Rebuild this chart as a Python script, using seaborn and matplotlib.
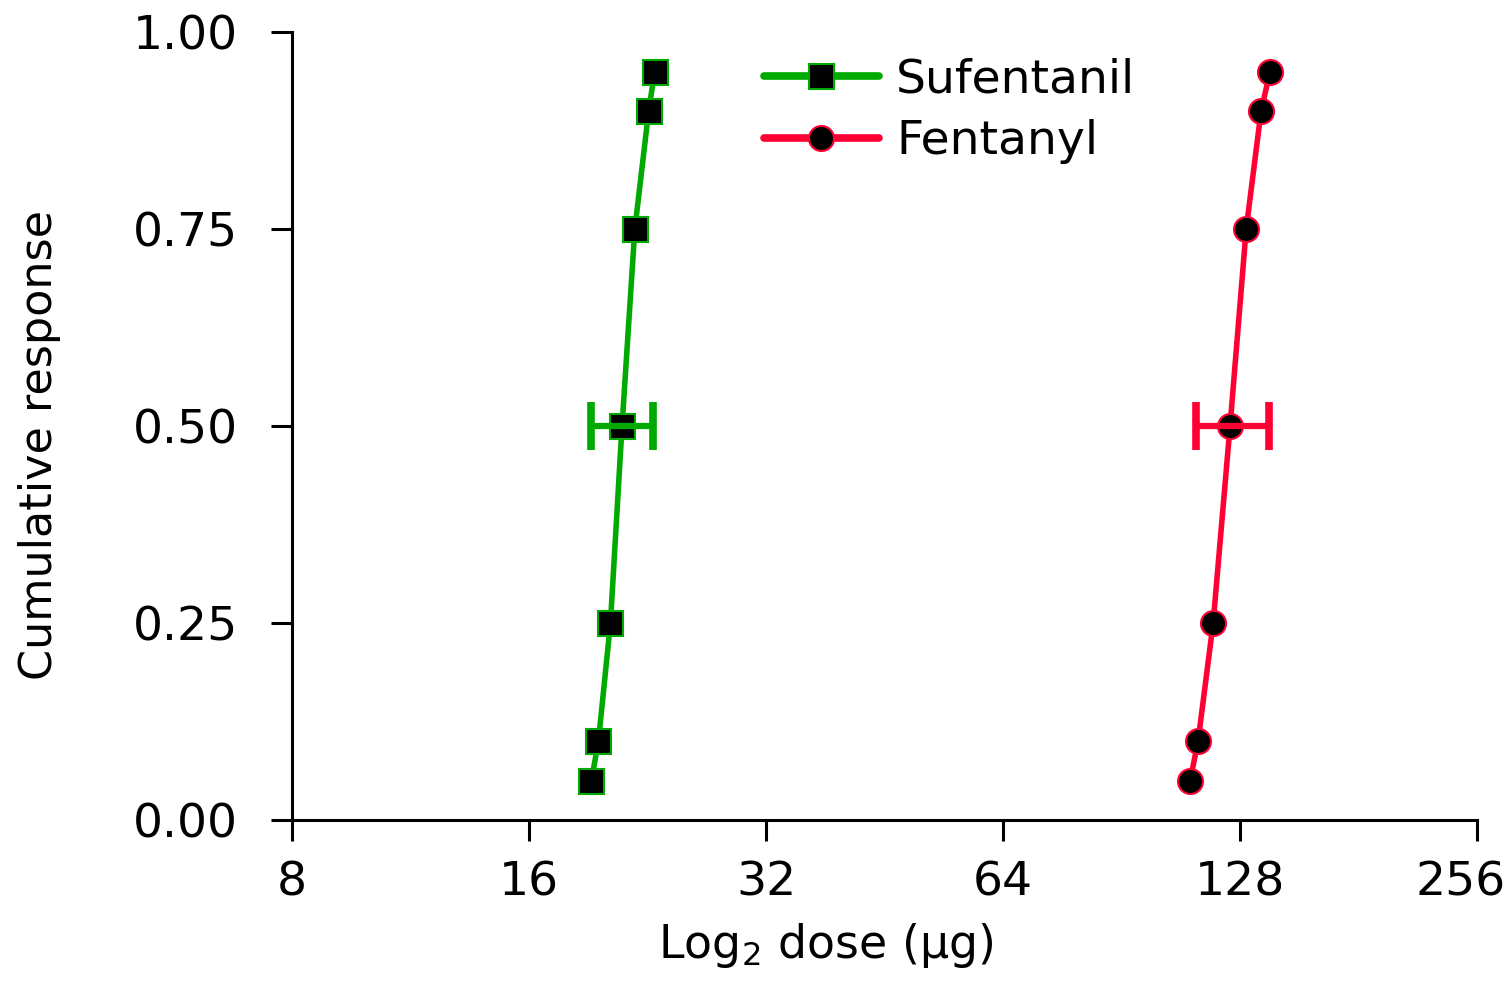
import matplotlib
matplotlib.use("Agg")
import matplotlib.pyplot as plt
import matplotlib.transforms as mtransforms
import seaborn as sns

# Cumulative response levels
response = [0.05, 0.10, 0.25, 0.50, 0.75, 0.90, 0.95]

# Dose (ug)
sufentanil_dose = [19.2, 19.6, 20.3, 21.0, 21.8, 22.7, 23.1]
fentanyl_dose = [110.6, 113.2, 118.3, 124.3, 130.3, 136.1, 139.7]

# ED50 with 95% CI (horizontal error bars at 0.50)
sufentanil_ci = [19.2, 21.0, 23.0]
fentanyl_ci = [112.4, 124.3, 139.4]

x_ticks = [8, 16, 32, 64, 128, 256]
y_ticks = [0.00, 0.25, 0.50, 0.75, 1.00]

green = "#00AA00"
red = "#FF0033"

sns.set_style("ticks")
plt.rcParams["font.family"] = ["DejaVu Sans"]
plt.rcParams["text.color"] = "black"
plt.rcParams["axes.labelcolor"] = "black"
plt.rcParams["xtick.color"] = "black"
plt.rcParams["ytick.color"] = "black"

fig = plt.figure(figsize=(15.1, 9.82), dpi=100)
ax = fig.add_axes([0.1934, 0.165, 0.7848, 0.802])

sns.lineplot(x=sufentanil_dose, y=response, ax=ax, color=green, lw=4,
             marker="s", markersize=18, markerfacecolor="black",
             markeredgecolor=green, markeredgewidth=1.5,
             label="Sufentanil", sort=False, estimator=None)
sns.lineplot(x=fentanyl_dose, y=response, ax=ax, color=red, lw=4,
             marker="o", markersize=18, markerfacecolor="black",
             markeredgecolor=red, markeredgewidth=1.5,
             label="Fentanyl", sort=False, estimator=None)

# error bars drawn over the markers
for ci, c in [(sufentanil_ci, green), (fentanyl_ci, red)]:
    ax.errorbar(x=[ci[1]], y=[0.5], xerr=[[ci[1] - ci[0]], [ci[2] - ci[1]]],
                fmt="none", ecolor=c, elinewidth=4.5, capsize=17,
                capthick=5.5, zorder=5)

ax.set_xscale("log", base=2)
ax.set_xlim(8, 256)
ax.set_ylim(0, 1)
ax.set_xticks(x_ticks)
ax.set_xticklabels([str(t) for t in x_ticks])
ax.minorticks_off()
ax.set_yticks(y_ticks)
ax.set_yticklabels([f"{t:.2f}" for t in y_ticks])

ax.tick_params(axis="both", labelsize=34, width=2.2, length=15, color="black",
               labelcolor="black")
ax.tick_params(axis="y", pad=24)
ax.tick_params(axis="x", pad=14)
for s in ["top", "right"]:
    ax.spines[s].set_visible(False)
for s in ["left", "bottom"]:
    ax.spines[s].set_linewidth(2.2)
    ax.spines[s].set_color("black")

# last x label sits a bit left so it stays inside the figure
last = ax.get_xticklabels()[-1]
last.set_transform(last.get_transform() +
                   mtransforms.ScaledTranslation(-12 / 72, 0, fig.dpi_scale_trans))

ax.set_xlabel("Log$_2$ dose (μg)", fontsize=33)
ax.set_ylabel("Cumulative response", fontsize=32)
ax.xaxis.set_label_coords(0.45, -0.128)
ax.yaxis.set_label_coords(-0.195, 0.476)

leg = ax.legend(loc="upper left", bbox_to_anchor=(0.362, 1.022), frameon=False,
                fontsize=34, handlelength=2.45, handletextpad=0.36,
                labelspacing=0.35)
for h in leg.get_lines():
    h.set_linewidth(5.5)

fig.savefig("out.png", dpi=100)
